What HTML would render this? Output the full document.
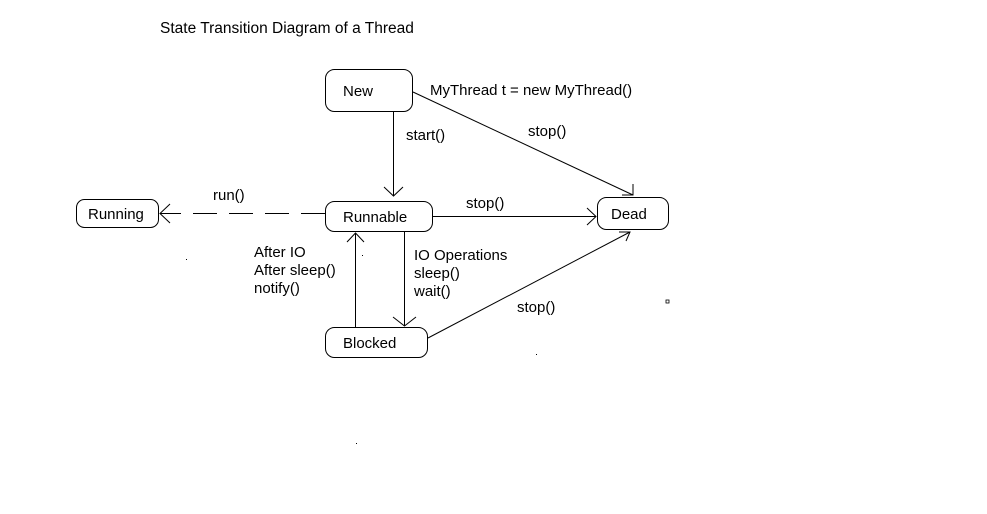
<!DOCTYPE html>
<html><head><style>
body{margin:0;background:#fff;width:987px;height:509px;overflow:hidden}
svg text{font-family:"Liberation Sans",Arial,sans-serif;font-size:15px;fill:#000}
</style></head><body>
<svg width="987" height="509" xmlns="http://www.w3.org/2000/svg">
<g fill="none" stroke="#000" stroke-width="1">
<rect x="325.5" y="69.5" width="87" height="42" rx="9"/>
<rect x="325.5" y="201.5" width="107" height="30" rx="9"/>
<rect x="597.5" y="197.5" width="71" height="32" rx="9"/>
<rect x="76.5" y="199.5" width="82" height="28" rx="8"/>
<rect x="325.5" y="327.5" width="102" height="30" rx="9"/>
<line x1="393.5" y1="111" x2="393.5" y2="196"/>
<polyline points="384,187 393.5,196 403,187"/>
<line x1="413" y1="92" x2="633" y2="195"/>
<polyline points="622,195 633,195 633,184"/>
<line x1="432" y1="216.5" x2="596" y2="216.5"/>
<polyline points="587,208 596,216.5 587,225"/>
<line x1="325" y1="213.5" x2="160" y2="213.5" stroke-dasharray="24,12"/>
<polyline points="170,204 160,213.5 170,223"/>
<line x1="355.5" y1="327" x2="355.5" y2="233"/>
<polyline points="347,242 355.5,233 364,242"/>
<line x1="404.5" y1="231" x2="404.5" y2="326"/>
<polyline points="393,317 404.5,326 416,317"/>
<line x1="428" y1="338" x2="630" y2="232"/>
<polyline points="619,232 630,232 626,241"/>
</g>
<text x="160" y="33" style="font-size:15.5px">State Transition Diagram of a Thread</text>
<text x="343" y="96">New</text>
<text x="430" y="95">MyThread t = new MyThread()</text>
<text x="406" y="140">start()</text>
<text x="528" y="136">stop()</text>
<text x="343" y="222">Runnable</text>
<text x="466" y="208">stop()</text>
<text x="611" y="219">Dead</text>
<text x="88" y="219">Running</text>
<text x="213" y="200">run()</text>
<text x="254" y="257">After IO</text>
<text x="254" y="275">After sleep()</text>
<text x="254" y="293">notify()</text>
<text x="414" y="260">IO Operations</text>
<text x="414" y="278">sleep()</text>
<text x="414" y="296">wait()</text>
<text x="517" y="312">stop()</text>
<text x="343" y="348">Blocked</text>
<rect x="666" y="300" width="3" height="3" fill="none" stroke="#000" stroke-width="0.8"/>
<rect x="186" y="259" width="1" height="1" fill="#000"/>
<rect x="362" y="255" width="1" height="1" fill="#000"/>
<rect x="536" y="354" width="1" height="1" fill="#000"/>
<rect x="356" y="443" width="1" height="1" fill="#000"/>
</svg>
</body></html>
